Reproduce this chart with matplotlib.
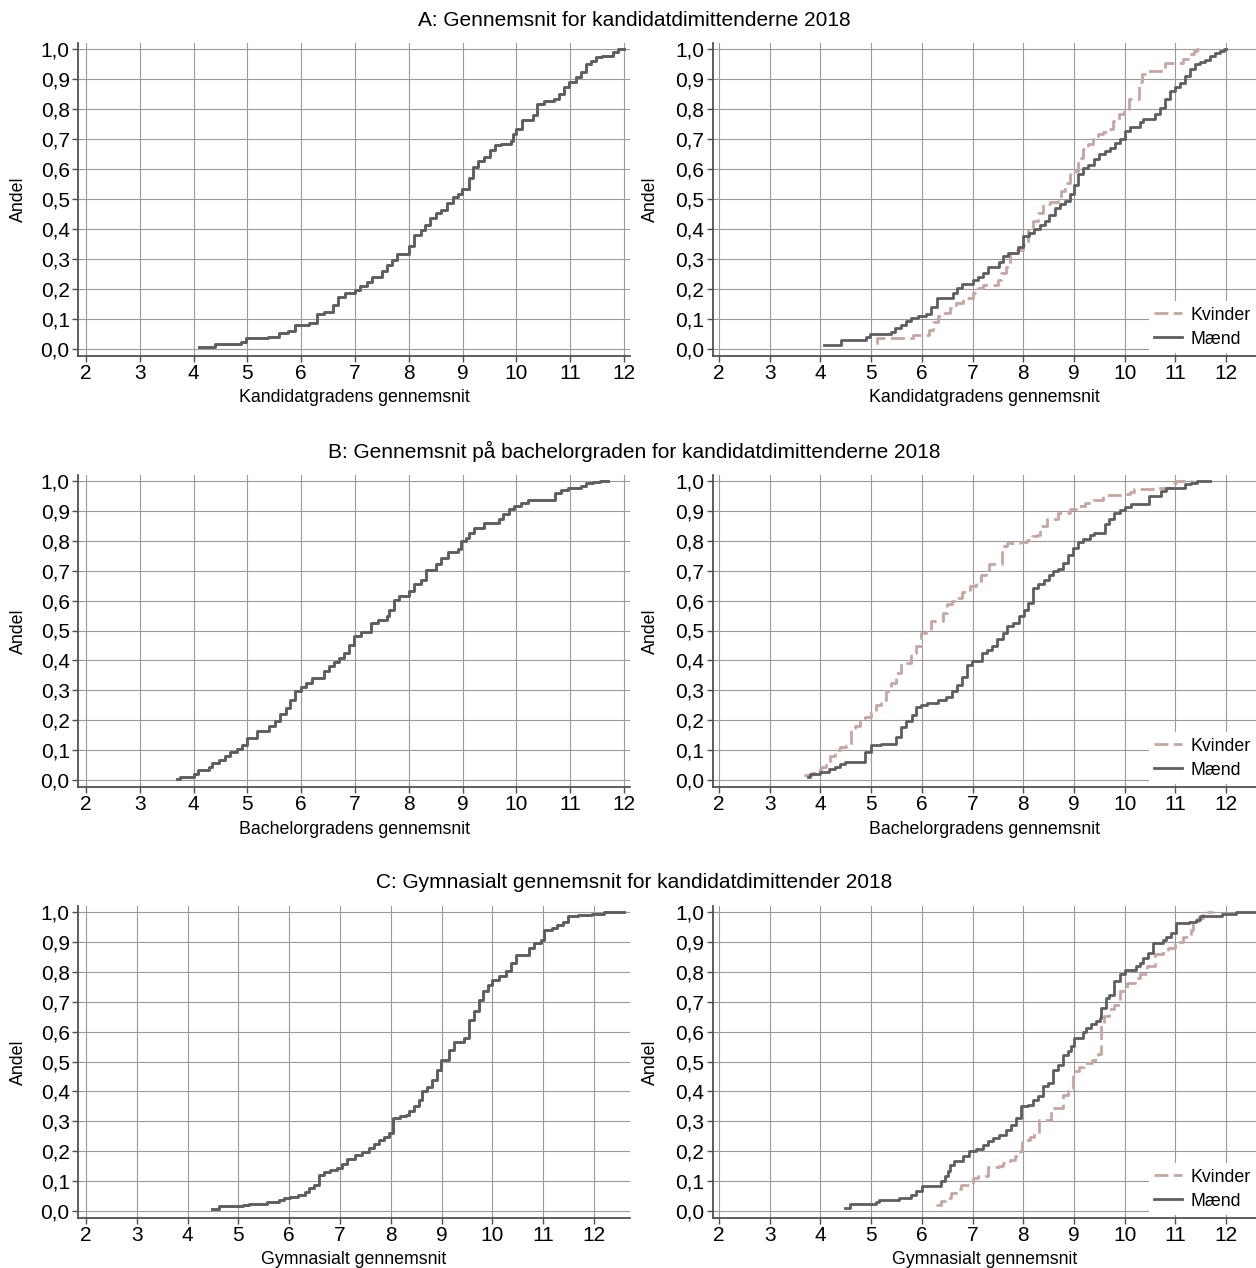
import matplotlib.pyplot as plt

plt.rcParams['font.family'] = ['Liberation Sans', 'DejaVu Sans']

# ---------------- data ----------------
# A: kandidatgradens gennemsnit, alle
a_x = [4.10, 4.40, 4.88, 4.97, 5.39, 5.58, 5.76, 5.89, 6.14, 6.29, 6.42, 6.60, 6.69, 6.82, 7.00,
       7.10, 7.22, 7.32, 7.50, 7.60, 7.69, 7.78, 8.00, 8.09, 8.22, 8.31, 8.40, 8.50, 8.59, 8.71,
       8.82, 8.91, 8.99, 9.12, 9.20, 9.29, 9.40, 9.51, 9.60, 9.71, 9.90, 9.93, 9.99, 10.11, 10.30,
       10.39, 10.52, 10.70, 10.80, 10.89, 10.98, 11.11, 11.20, 11.29, 11.39, 11.48, 11.60, 11.79,
       11.88, 12.00]
a_y = [0.008, 0.016, 0.025, 0.036, 0.041, 0.052, 0.061, 0.079, 0.086, 0.117, 0.125, 0.147, 0.175,
       0.186, 0.197, 0.211, 0.225, 0.240, 0.259, 0.281, 0.298, 0.318, 0.342, 0.381, 0.396, 0.415,
       0.437, 0.454, 0.465, 0.487, 0.507, 0.518, 0.534, 0.571, 0.606, 0.627, 0.641, 0.662, 0.679,
       0.685, 0.693, 0.716, 0.732, 0.763, 0.779, 0.816, 0.827, 0.833, 0.850, 0.872, 0.891, 0.907,
       0.922, 0.950, 0.961, 0.972, 0.978, 0.991, 1.000, 1.000]

# A: mænd / kvinder
am_x = [4.08, 4.41, 4.90, 4.97, 5.40, 5.48, 5.59, 5.69, 5.79, 5.92, 6.09, 6.19, 6.29, 6.62, 6.69,
        6.80, 7.01, 7.11, 7.20, 7.31, 7.53, 7.60, 7.70, 7.90, 8.00, 8.12, 8.21, 8.33, 8.43, 8.51,
        8.62, 8.72, 8.82, 8.92, 9.00, 9.09, 9.18, 9.28, 9.40, 9.50, 9.61, 9.71, 9.81, 9.91, 10.01,
        10.11, 10.30, 10.37, 10.60, 10.70, 10.80, 10.90, 11.00, 11.10, 11.20, 11.29, 11.39, 11.49,
        11.59, 11.69, 11.79, 11.89, 11.96, 12.00]
am_y = [0.013, 0.030, 0.041, 0.050, 0.058, 0.069, 0.080, 0.094, 0.103, 0.110, 0.116, 0.139, 0.169,
        0.186, 0.203, 0.216, 0.231, 0.239, 0.253, 0.273, 0.289, 0.309, 0.320, 0.340, 0.378, 0.387,
        0.401, 0.415, 0.428, 0.448, 0.470, 0.485, 0.493, 0.518, 0.548, 0.582, 0.604, 0.615, 0.632,
        0.649, 0.660, 0.671, 0.688, 0.701, 0.727, 0.741, 0.757, 0.766, 0.783, 0.805, 0.833, 0.861,
        0.874, 0.886, 0.911, 0.933, 0.950, 0.958, 0.964, 0.978, 0.987, 0.994, 1.000, 1.000]
ak_x = [5.10, 5.12, 5.82, 6.15, 6.23, 6.32, 6.42, 6.55, 6.68, 6.81, 7.01, 7.11, 7.21, 7.50, 7.57,
        7.67, 7.74, 7.87, 8.00, 8.10, 8.20, 8.30, 8.39, 8.53, 8.69, 8.74, 8.82, 8.92, 9.09, 9.18,
        9.28, 9.38, 9.48, 9.58, 9.68, 9.78, 9.88, 9.98, 10.08, 10.28, 10.34, 10.44, 10.80, 11.16,
        11.26, 11.36, 11.42, 11.46]
ak_y = [0.020, 0.038, 0.047, 0.064, 0.091, 0.111, 0.119, 0.136, 0.153, 0.169, 0.186, 0.203, 0.214,
        0.231, 0.253, 0.275, 0.320, 0.329, 0.348, 0.398, 0.426, 0.454, 0.482, 0.489, 0.504, 0.526,
        0.554, 0.593, 0.638, 0.666, 0.682, 0.699, 0.716, 0.724, 0.735, 0.760, 0.783, 0.799, 0.833,
        0.889, 0.916, 0.928, 0.953, 0.967, 0.983, 0.994, 1.000, 1.000]

# B: bachelorgradens gennemsnit, alle
b_x = [3.70, 3.75, 4.00, 4.09, 4.28, 4.34, 4.47, 4.59, 4.68, 4.81, 4.90, 4.99, 5.18, 5.40, 5.52,
       5.61, 5.71, 5.80, 5.89, 5.99, 6.08, 6.20, 6.42, 6.52, 6.61, 6.70, 6.80, 6.89, 6.98, 7.11,
       7.29, 7.42, 7.60, 7.63, 7.73, 7.82, 8.01, 8.10, 8.22, 8.32, 8.50, 8.60, 8.72, 8.91, 8.97,
       9.06, 9.12, 9.22, 9.40, 9.68, 9.75, 9.87, 9.96, 10.09, 10.21, 10.71, 10.83, 10.96, 11.20,
       11.30, 11.42, 11.55, 11.70]
b_y = [0.005, 0.011, 0.020, 0.034, 0.045, 0.056, 0.067, 0.080, 0.092, 0.103, 0.117, 0.142, 0.165,
       0.181, 0.196, 0.221, 0.240, 0.268, 0.296, 0.311, 0.326, 0.341, 0.363, 0.380, 0.393, 0.408,
       0.425, 0.450, 0.480, 0.494, 0.525, 0.536, 0.547, 0.570, 0.603, 0.615, 0.631, 0.654, 0.670,
       0.704, 0.721, 0.743, 0.762, 0.771, 0.799, 0.810, 0.827, 0.844, 0.860, 0.872, 0.888, 0.907,
       0.916, 0.927, 0.936, 0.959, 0.970, 0.975, 0.983, 0.992, 0.997, 1.000, 1.000]

# B: mænd / kvinder
bm_x = [3.76, 3.80, 3.99, 4.16, 4.29, 4.38, 4.49, 4.87, 5.00, 5.20, 5.49, 5.59, 5.69, 5.80, 5.89,
        5.98, 6.11, 6.31, 6.47, 6.60, 6.70, 6.80, 6.90, 6.99, 7.19, 7.29, 7.39, 7.48, 7.60, 7.69,
        7.80, 7.91, 8.01, 8.10, 8.19, 8.30, 8.41, 8.50, 8.59, 8.69, 8.79, 8.89, 8.99, 9.08, 9.18,
        9.31, 9.39, 9.61, 9.70, 9.80, 9.90, 10.00, 10.13, 10.49, 10.72, 10.81, 11.20, 11.30, 11.43,
        11.69]
bm_y = [0.009, 0.020, 0.028, 0.036, 0.045, 0.054, 0.061, 0.095, 0.117, 0.121, 0.145, 0.177, 0.196,
        0.218, 0.244, 0.251, 0.257, 0.268, 0.279, 0.296, 0.318, 0.344, 0.385, 0.397, 0.425, 0.436,
        0.447, 0.472, 0.492, 0.516, 0.525, 0.547, 0.570, 0.592, 0.642, 0.654, 0.670, 0.687, 0.698,
        0.706, 0.726, 0.754, 0.777, 0.796, 0.807, 0.821, 0.827, 0.855, 0.872, 0.894, 0.903, 0.914,
        0.922, 0.950, 0.966, 0.978, 0.989, 0.994, 1.000, 1.000]
bk_x = [3.67, 3.83, 3.93, 4.02, 4.12, 4.19, 4.29, 4.38, 4.51, 4.61, 4.68, 4.78, 4.87, 5.00, 5.10,
        5.20, 5.30, 5.40, 5.49, 5.59, 5.79, 5.89, 5.98, 6.08, 6.18, 6.41, 6.50, 6.60, 6.70, 6.80,
        6.96, 7.06, 7.16, 7.26, 7.32, 7.58, 7.68, 7.94, 8.07, 8.17, 8.27, 8.33, 8.46, 8.69, 8.92,
        9.05, 9.21, 9.38, 9.57, 9.96, 10.10, 10.19, 10.62, 10.91, 11.01, 11.33]
bk_y = [0.017, 0.022, 0.034, 0.045, 0.056, 0.080, 0.101, 0.112, 0.117, 0.173, 0.179, 0.207, 0.212,
        0.229, 0.251, 0.268, 0.296, 0.324, 0.358, 0.391, 0.425, 0.449, 0.492, 0.503, 0.531, 0.559,
        0.587, 0.598, 0.609, 0.629, 0.648, 0.665, 0.687, 0.704, 0.721, 0.782, 0.793, 0.796, 0.804,
        0.816, 0.821, 0.851, 0.872, 0.894, 0.905, 0.916, 0.927, 0.936, 0.952, 0.955, 0.963, 0.974,
        0.978, 0.994, 1.000, 1.000]

# C: gymnasialt gennemsnit, alle
c_x = [4.49, 4.61, 5.10, 5.20, 5.56, 5.79, 5.89, 6.02, 6.18, 6.32, 6.38, 6.48, 6.58, 6.68, 6.81,
       6.94, 7.04, 7.14, 7.30, 7.43, 7.57, 7.66, 7.76, 7.86, 7.96, 8.05, 8.19, 8.29, 8.36, 8.45,
       8.55, 8.62, 8.72, 8.82, 8.91, 8.98, 9.14, 9.24, 9.44, 9.54, 9.64, 9.74, 9.82, 9.91, 10.00,
       10.13, 10.26, 10.36, 10.46, 10.72, 10.82, 10.95, 11.02, 11.18, 11.28, 11.38, 11.48, 11.68,
       11.97, 12.20, 12.60]
c_y = [0.008, 0.016, 0.021, 0.025, 0.029, 0.038, 0.043, 0.047, 0.055, 0.062, 0.077, 0.088, 0.122,
       0.129, 0.136, 0.144, 0.157, 0.174, 0.188, 0.196, 0.211, 0.224, 0.239, 0.247, 0.261, 0.311,
       0.317, 0.322, 0.333, 0.350, 0.372, 0.400, 0.415, 0.439, 0.473, 0.506, 0.540, 0.566, 0.578,
       0.640, 0.668, 0.707, 0.735, 0.757, 0.774, 0.785, 0.802, 0.829, 0.857, 0.880, 0.896, 0.907,
       0.939, 0.946, 0.957, 0.968, 0.985, 0.990, 0.994, 1.000, 1.000]

# C: mænd / kvinder
cm_x = [4.49, 4.59, 5.10, 5.16, 5.56, 5.79, 5.89, 6.01, 6.38, 6.45, 6.51, 6.56, 6.64, 6.81, 6.94,
        7.07, 7.20, 7.30, 7.40, 7.53, 7.66, 7.76, 7.86, 7.96, 8.09, 8.19, 8.29, 8.39, 8.49, 8.59,
        8.68, 8.78, 8.88, 8.95, 9.01, 9.18, 9.24, 9.34, 9.44, 9.51, 9.54, 9.63, 9.70, 9.80, 9.90,
        10.00, 10.23, 10.30, 10.36, 10.46, 10.56, 10.76, 10.82, 10.92, 11.02, 11.28, 11.41, 11.49,
        11.93, 12.20, 12.59]
cm_y = [0.010, 0.023, 0.029, 0.038, 0.043, 0.055, 0.066, 0.082, 0.099, 0.116, 0.133, 0.155, 0.166,
        0.183, 0.200, 0.207, 0.222, 0.233, 0.244, 0.255, 0.272, 0.289, 0.311, 0.350, 0.356, 0.372,
        0.384, 0.417, 0.428, 0.473, 0.489, 0.523, 0.534, 0.551, 0.579, 0.598, 0.612, 0.627, 0.634,
        0.645, 0.679, 0.712, 0.724, 0.768, 0.791, 0.805, 0.818, 0.829, 0.846, 0.863, 0.896, 0.907,
        0.918, 0.929, 0.962, 0.968, 0.974, 0.988, 0.993, 1.000, 1.000]
ck_x = [6.28, 6.38, 6.48, 6.58, 6.68, 6.78, 7.01, 7.11, 7.30, 7.53, 7.60, 7.73, 7.83, 7.93, 7.98,
        8.13, 8.22, 8.32, 8.55, 8.78, 8.88, 8.98, 9.10, 9.20, 9.35, 9.47, 9.54, 9.60, 9.70, 9.80,
        9.90, 10.00, 10.05, 10.20, 10.30, 10.45, 10.60, 10.75, 10.85, 11.00, 11.15, 11.30, 11.35,
        11.45, 11.55, 11.75]
ck_y = [0.021, 0.032, 0.043, 0.060, 0.074, 0.088, 0.110, 0.118, 0.147, 0.149, 0.161, 0.172, 0.183,
        0.200, 0.239, 0.247, 0.261, 0.305, 0.344, 0.389, 0.408, 0.467, 0.483, 0.494, 0.505, 0.525,
        0.630, 0.652, 0.676, 0.690, 0.735, 0.745, 0.763, 0.780, 0.793, 0.820, 0.858, 0.868, 0.880,
        0.900, 0.917, 0.940, 0.960, 0.980, 1.000, 1.000]

titles = ["A: Gennemsnit for kandidatdimittenderne 2018",
          "B: Gennemsnit på bachelorgraden for kandidatdimittenderne 2018",
          "C: Gymnasialt gennemsnit for kandidatdimittender 2018"]
x_labels = ["Kandidatgradens gennemsnit", "Bachelorgradens gennemsnit", "Gymnasialt gennemsnit"]
y_label = "Andel"
legend_labels = ["Kvinder", "Mænd"]

x_ticks = [2, 3, 4, 5, 6, 7, 8, 9, 10, 11, 12]
y_ticks = [0.0, 0.1, 0.2, 0.3, 0.4, 0.5, 0.6, 0.7, 0.8, 0.9, 1.0]
y_tick_labels = ["0,0", "0,1", "0,2", "0,3", "0,4", "0,5", "0,6", "0,7", "0,8", "0,9", "1,0"]

# ---------------- layout (pixels) ----------------
W, H = 1256, 1268
DARK = "#5e5e5e"
PINK = "#c6a6a1"
GRID = "#9a9a9a"
AX = "#505050"

fig = plt.figure(figsize=(W / 100, H / 100), dpi=100)

# per row: top, bottom, y px of 0 and 1, title y
rows = [(43, 356, 349, 49, 20), (475, 787, 780, 481, 451), (906, 1218, 1211, 912, 883)]
# per column: left, right, x px of "Andel", px of x=2 / x=12 per row
left_cols = (78, 630, 18, [(86, 624), (86, 624), (86, 594)])
right_cols = (712.6, 1256, 650, [(719, 1226), (719, 1226), (719, 1226)])


def make_axes(r, col):
    top, bot, y0, y1, _ = rows[r]
    left, right, ylab_x, xs = col
    x2, x12 = xs[r]
    ax = fig.add_axes([left / W, 1 - bot / H, (right - left) / W, (bot - top) / H])
    ppx = (x12 - x2) / 10
    ax.set_xlim(2 - (x2 - left) / ppx, 2 + (right - x2) / ppx)
    ppy = y0 - y1
    ax.set_ylim(-(bot - y0) / ppy, (y0 - top) / ppy)
    ax.set_xticks(x_ticks)
    ax.set_yticks(y_ticks)
    ax.set_yticklabels(y_tick_labels)
    ax.grid(True, color=GRID, lw=0.8)
    ax.set_axisbelow(True)
    for s in ["top", "right"]:
        ax.spines[s].set_visible(False)
    for s in ["left", "bottom"]:
        ax.spines[s].set_color(AX)
        ax.spines[s].set_linewidth(1.3)
    ax.tick_params(direction="out", length=4, width=1, color=AX, labelsize=15, pad=2)
    h = bot - top
    w = right - left
    ax.set_xlabel(x_labels[r], fontsize=12.8, va="center")
    ax.xaxis.set_label_coords(0.5, -42 / h)
    ax.set_ylabel(y_label, fontsize=12.8, va="center")
    ax.yaxis.set_label_coords(-(left - ylab_x) / w, 0.5)
    return ax


totals = [(a_x, a_y), (b_x, b_y), (c_x, c_y)]
men = [(am_x, am_y), (bm_x, bm_y), (cm_x, cm_y)]
women = [(ak_x, ak_y), (bk_x, bk_y), (ck_x, ck_y)]

for r in range(3):
    fig.text(634 / W, 1 - rows[r][4] / H, titles[r], fontsize=15, ha="center", va="center")

    # venstre: alle
    ax = make_axes(r, left_cols)
    ax.step(totals[r][0], totals[r][1], where="post", color=DARK, lw=2.1)

    # højre: kvinder og mænd
    ax = make_axes(r, right_cols)
    k, = ax.step(women[r][0], women[r][1], where="post", color=PINK, lw=2.0,
                 linestyle=(0, (5, 2)))
    m, = ax.step(men[r][0], men[r][1], where="post", color=DARK, lw=2.0)
    h = rows[r][1] - rows[r][0]
    leg = ax.legend([k, m], legend_labels, loc="lower right",
                    bbox_to_anchor=(1.0, 3 / h), borderaxespad=0,
                    fontsize=12.8, handlelength=1.6, handletextpad=0.45,
                    labelspacing=0.4, borderpad=0.3, fancybox=False, framealpha=1,
                    facecolor="white", edgecolor="none")
    leg.set_zorder(5)

plt.savefig("out.png", dpi=100)
